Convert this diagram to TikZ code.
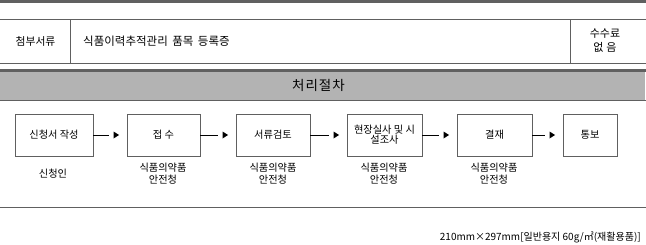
\documentclass[tikz,border=0pt]{standalone}
\usepackage{fontspec}
\setmainfont{Noto Sans CJK KR}
\newfontfamily\kr{Noto Sans CJK KR}
\usetikzlibrary{positioning}
\definecolor{lin}{RGB}{96,96,96}
\definecolor{band}{RGB}{179,179,179}
\tikzset{
  stepbox/.style={draw=lin,line width=0.9pt,minimum height=42pt,inner sep=0pt,align=center,font=\kr\fontsize{10.2}{11}\selectfont},
  lbl/.style={inner sep=0pt,align=center,font=\kr\fontsize{10.2}{12}\selectfont},
  conn/.style={draw=black,line width=0.9pt},
  tip/.style={fill=black},
  rule/.style={draw=lin,line width=0.9pt}
}
\newcommand{\arrowbetween}[2]{%
  \draw[conn] (#1.east) -- ([xshift=-18pt]#2.west);
  \fill[tip] ([xshift=-13pt,yshift=3.5pt]#2.west) -- ([xshift=-7.5pt]#2.west) -- ([xshift=-13pt,yshift=-3.5pt]#2.west) -- cycle;}
\begin{document}
\begin{tikzpicture}[x=1pt,y=-1pt]
\useasboundingbox (0,0) rectangle (646,244);
% top thick line
\fill[lin] (0,0) rectangle (646,2.5);
% table row
\draw[rule] (0,19) -- (646,19);
\draw[rule] (0,63) -- (646,63);
\draw[rule] (70,19) -- (70,63);
\draw[rule] (570,19) -- (570,63);
\node[lbl,font=\kr\fontsize{10.8}{11}\selectfont] (att) at (35.5,41) {첨부서류};
\node[lbl,anchor=west,font=\kr\fontsize{11.5}{12}\selectfont] (doc) at (83,41) {식품이력추적관리\hspace{4.5pt}품목\hspace{4.5pt}등록증};
\node[lbl,font=\kr\fontsize{11}{14.5}\selectfont] (fee) at (605,40.5) {수수료\\없\hspace{3pt}음};
% band
\fill[lin] (0,69) rectangle (646,71.5);
\fill[band] (0,71.5) rectangle (645,100);
\draw[rule] (0,100) -- (646,100);
\node[lbl,font=\kr\fontsize{13.5}{14}\selectfont] (proc) at (318.5,85.5) {처\hspace{1pt}리\hspace{1pt}절\hspace{1pt}차};
% boxes
\node[stepbox,minimum width=78pt] (b1) at (54,135) {신청서 작성};
\node[stepbox,minimum width=73pt] (b2) at (163.5,135) {접 수};
\node[stepbox,minimum width=74pt] (b3) at (273,135) {서류검토};
\node[stepbox,minimum width=75pt] (b4) at (384.5,135) {현장실사 및 시\\[-1pt]설조사};
\node[stepbox,minimum width=75pt] (b5) at (494.5,135) {결재};
\node[stepbox,minimum width=54pt] (b6) at (590,135) {통보};
\arrowbetween{b1}{b2}
\arrowbetween{b2}{b3}
\arrowbetween{b3}{b4}
\arrowbetween{b4}{b5}
\arrowbetween{b5}{b6}
% labels
\node[lbl] (l1) at (53,174) {신청인};
\node[lbl] (l2) at (163,174) {식품의약품\\안전청};
\node[lbl] (l3) at (273,174) {식품의약품\\안전청};
\node[lbl] (l4) at (384,174) {식품의약품\\안전청};
\node[lbl] (l5) at (494,174) {식품의약품\\안전청};
% bottom rule
\draw[rule] (0,207) -- (646,207);
\node[lbl,anchor=east,font=\kr\fontsize{10}{11}\selectfont] (foot) at (641,237.5) {210mm×297mm[일반용지 60g/㎡(재활용품)]};
\end{tikzpicture}
\end{document}
